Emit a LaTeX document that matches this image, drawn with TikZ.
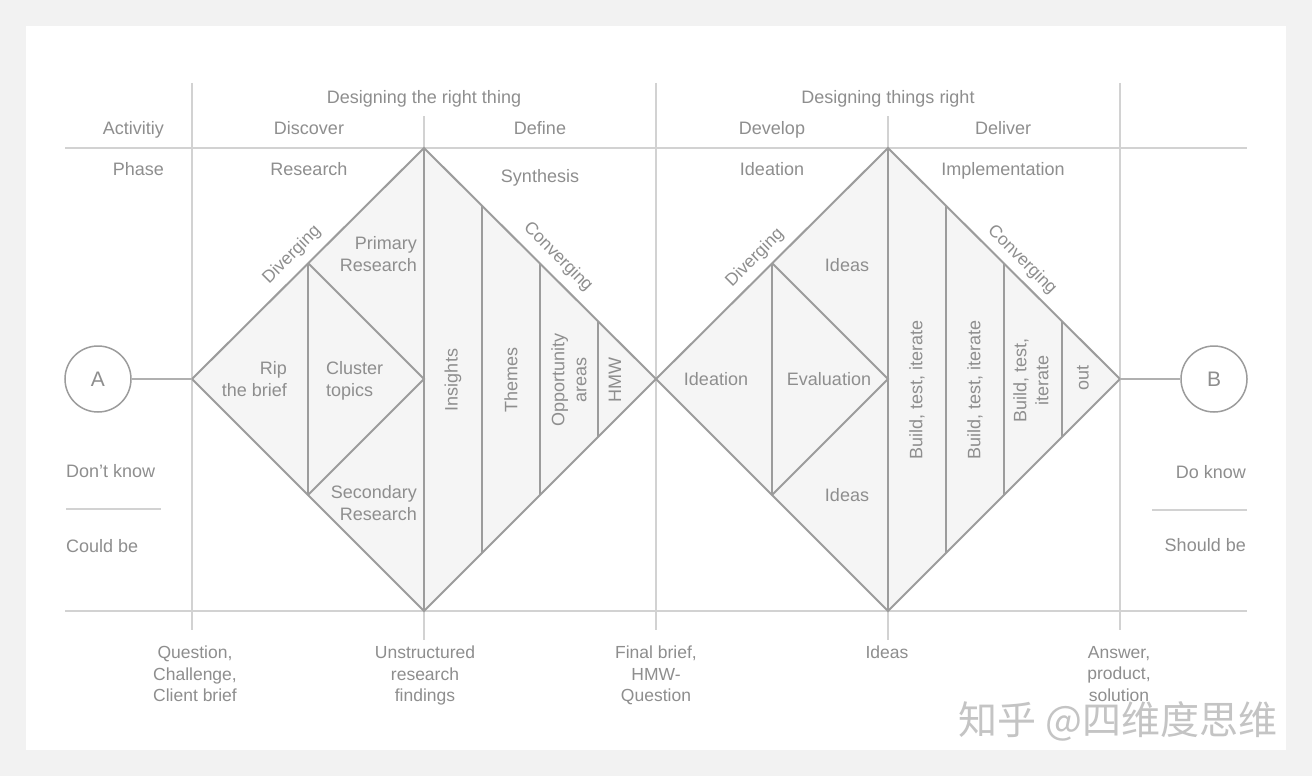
\documentclass[tikz,border=0pt]{standalone}
\usepackage{fontspec}
\setmainfont{Liberation Sans}
\newfontfamily\cjk{Noto Sans CJK SC}
\definecolor{txtc}{HTML}{8E8E8E}
\definecolor{linec}{HTML}{9C9C9C}
\definecolor{gridc}{HTML}{D2D2D2}
\definecolor{fillc}{HTML}{F5F5F5}
\definecolor{bgc}{HTML}{F2F2F2}
\definecolor{wmc}{HTML}{C4C4C4}
\begin{document}
\begin{tikzpicture}[x=1pt,y=-1pt,
  grid/.style={draw=gridc, line width=1.4pt},
  edge/.style={draw=linec, line width=2pt, line join=miter},
  conn/.style={draw=linec!80, line width=1.2pt},
  lbl/.style={text=txtc, font=\fontsize{18}{22}\selectfont, inner sep=0pt},
  blbl/.style={lbl, font=\fontsize{17.5}{21.5}\selectfont, align=center, anchor=north},
  rlbl/.style={lbl, rotate=90, align=center},
  elbl/.style={lbl, font=\fontsize{17.5}{21.5}\selectfont},
  endpt/.style={circle, draw=linec, line width=1.5pt, minimum size=66pt, inner sep=0pt,
    text=txtc, font=\fontsize{21}{21}\selectfont}]
% background
\fill[bgc] (0,0) rectangle (1312,776);
\fill[white] (26,26) rectangle (1286,750);
\useasboundingbox (0,0) rectangle (1312,776);
% grid
\draw[grid] (65,148) -- (1247,148);
\draw[grid] (65,611) -- (1247,611);
\draw[grid] (192,83) -- (192,630);
\draw[grid] (424,116) -- (424,640);
\draw[grid] (656,83) -- (656,630);
\draw[grid] (888,116) -- (888,640);
\draw[grid] (1120,83) -- (1120,630);
\draw[grid] (66,509) -- (161,509);
\draw[grid] (1152,510) -- (1247,510);
% diamond coordinates
\coordinate (L1) at (192,379); \coordinate (T1) at (424,148);
\coordinate (R1) at (656,379); \coordinate (B1) at (424,611);
\coordinate (L2) at (656,379); \coordinate (T2) at (888,148);
\coordinate (R2) at (1120,379); \coordinate (B2) at (888,611);
% diamond 1
\filldraw[edge, fill=fillc] (L1) -- (T1) -- (R1) -- (B1) -- cycle;
\draw[edge] (T1) -- (B1);
\draw[edge] (308,263) -- (308,495);
\draw[edge] (308,263) -- (424,379) -- (308,495);
\draw[edge] (482,206) -- (482,553);
\draw[edge] (540,264) -- (540,495);
\draw[edge] (598,322) -- (598,437);
% diamond 2
\filldraw[edge, fill=fillc] (L2) -- (T2) -- (R2) -- (B2) -- cycle;
\draw[edge] (T2) -- (B2);
\draw[edge] (772,263) -- (772,495);
\draw[edge] (772,263) -- (888,379) -- (772,495);
\draw[edge] (946,206) -- (946,553);
\draw[edge] (1004,264) -- (1004,495);
\draw[edge] (1062,322) -- (1062,437);
% end points
\node[endpt] (A) at (98,379) {A};
\node[endpt] (B) at (1214,379) {B};
\draw[conn] (A.east) -- (L1);
\draw[conn] (R2) -- (B.west);
% header labels
\node[lbl, anchor=base] (h1) at (424,103) {Designing the right thing};
\node[lbl, anchor=base] (h2) at (888,103) {Designing things right};
\node[lbl, anchor=base east] (act) at (164,134) {Activitiy};
\node[lbl, anchor=base] (disc) at (309,134) {Discover};
\node[lbl, anchor=base] (defi) at (540,134) {Define};
\node[lbl, anchor=base] (deve) at (772,134) {Develop};
\node[lbl, anchor=base] (deli) at (1003,134) {Deliver};
\node[lbl, anchor=base east] (phase) at (164,175) {Phase};
\node[lbl, anchor=base] (res) at (309,175) {Research};
\node[lbl, anchor=base] (syn) at (540,182) {Synthesis};
\node[lbl, anchor=base] (idea) at (772,175) {Ideation};
\node[lbl, anchor=base] (impl) at (1003,175) {Implementation};
% side labels
\node[lbl, anchor=base west] (dk) at (66,477) {Don't know};
\node[lbl, anchor=base west] (cb) at (66,552) {Could be};
\node[lbl, anchor=base east] (dok) at (1246,478) {Do know};
\node[lbl, anchor=base east] (sb) at (1246,551) {Should be};
% edge labels
\node[elbl, rotate=45] (dv1) at (292,255) {Diverging};
\node[elbl, rotate=-45] (cv1) at (558,257) {Converging};
\node[elbl, rotate=45] (dv2) at (755,258) {Diverging};
\node[elbl, rotate=-45] (cv2) at (1022,260) {Converging};
% diamond 1 inner labels
\node[lbl, align=right, anchor=north east] (prim) at (417,236) {Primary\\Research};
\node[lbl, align=right, anchor=north east] (rip) at (287,361) {Rip\\the brief};
\node[lbl, align=left, anchor=north west] (clu) at (326,361) {Cluster\\topics};
\node[lbl, align=right, anchor=north east] (sec) at (417,485) {Secondary\\Research};
\node[rlbl] (ins) at (453,380) {Insights};
\node[rlbl] (the) at (511,380) {Themes};
\node[rlbl] (opp) at (569,380) {Opportunity\\areas};
\node[rlbl] (hmw) at (615,380) {HMW};
% diamond 2 inner labels
\node[lbl, anchor=base] (id1) at (847,271) {Ideas};
\node[lbl, anchor=base] (idn) at (716,385) {Ideation};
\node[lbl, anchor=base] (eva) at (829,385) {Evaluation};
\node[lbl, anchor=base] (id2) at (847,501) {Ideas};
\node[rlbl] (bti1) at (917,390) {Build, test, iterate};
\node[rlbl] (bti2) at (975,390) {Build, test, iterate};
\node[rlbl] (bti3) at (1031,380) {Build, test,\\iterate};
\node[rlbl] (out) at (1083,378) {out};
% bottom labels
\node[blbl] (q) at (195,646) {Question,\\Challenge,\\Client brief};
\node[blbl] (u) at (425,646) {Unstructured\\research\\findings};
\node[blbl] (f) at (656,646) {Final brief,\\HMW-\\Question};
\node[blbl] (i) at (887,646) {Ideas};
\node[blbl] (ans) at (1119,646) {Answer,\\product,\\solution};
% watermark
\node[inner sep=0pt, text=wmc, font=\cjk\fontsize{39}{39}\selectfont] (wm) at (1118,721) {知乎 @四维度思维};
\end{tikzpicture}
\end{document}
